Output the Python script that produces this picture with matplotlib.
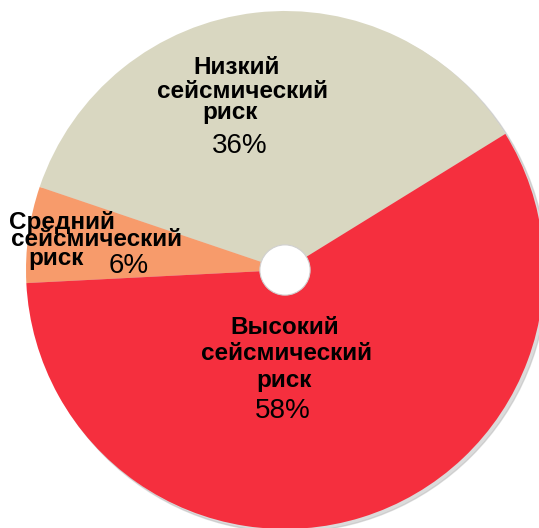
import matplotlib.pyplot as plt
from matplotlib.patches import Circle

labels = ['Низкий сейсмический риск', 'Средний сейсмический риск', 'Высокий сейсмический риск']
shares = [36, 6, 58]
colors = ['#d9d7c1', '#f79b6b', '#f52f3e']

W, H = 539, 528
CX, CY, R = 285, 270, 259  # pie centre and radius in pixels


def px(x, y):
    # pixel position -> data coordinates of the pie
    return (x - CX) / R, (CY - y) / R


fig = plt.figure(figsize=(W / 100, H / 100), dpi=100)
ax = fig.add_axes([0, 0, 1, 1])

# soft shadow under the pie
ax.add_patch(Circle((0.012, -0.012), 1.0, color='#b8b8b8', alpha=0.5, zorder=0))
ax.pie(shares, colors=colors, startangle=31.7, counterclock=True, radius=1.0,
       wedgeprops=dict(linewidth=0, zorder=1))
ax.add_patch(Circle((0, 0), 0.097, facecolor='white', edgecolor='#d0d0d0',
                    linewidth=0.8, zorder=3))

ax.set_xlim(-CX / R, (W - CX) / R)
ax.set_ylim(-(H - CY) / R, CY / R)
ax.set_aspect('equal')
ax.axis('off')

font = 'Liberation Sans'
lines = [
    # text, x px, y px, size, bold
    ('Низкий', 237, 68, 17.5, True),
    ('сейсмический', 243, 92, 17.5, True),
    ('риск', 230, 113, 17.5, True),
    ('{}%'.format(shares[0]), 240, 146, 20, False),
    ('Средний', 62, 222, 17.5, True),
    ('сейсмический', 96, 239, 17.5, True),
    ('риск', 56, 258, 17.5, True),
    ('{}%'.format(shares[1]), 129, 266, 20, False),
    ('Высокий', 285, 328, 17.5, True),
    ('сейсмический', 287, 353, 17.5, True),
    ('риск', 284, 380, 17.5, True),
    ('{}%'.format(shares[2]), 283, 411, 20, False),
]
for text, x, y, size, bold in lines:
    ax.text(*px(x, y), text, ha='center', va='center', fontsize=size,
            fontfamily=font, fontweight='bold' if bold else 'normal',
            color='black', zorder=5)

fig.savefig('out.png', dpi=100, facecolor='white')
